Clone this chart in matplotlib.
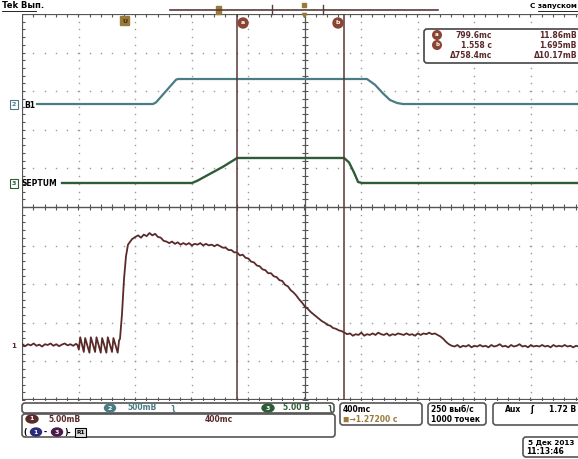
import numpy as np
import matplotlib.pyplot as plt
from matplotlib.patches import FancyBboxPatch, Rectangle, Ellipse, Circle

W, H = 578, 459

# timebase and trigger
sec_per_div = 0.4
trig_div = 1.806          # trigger position, divisions from left edge
cur_a = 0.7996            # cursor a, s
cur_b = 1.558             # cursor b, s

# channel 1 (brown), 5.00 mV/div
ch1_t = [-0.72, -0.70, -0.68, -0.66, -0.64, -0.62, -0.60, -0.58, -0.56, -0.54,
         -0.52, -0.50, -0.48, -0.46, -0.44, -0.42, -0.40, -0.38, -0.36, -0.34,
         -0.33, -0.32, -0.31, -0.285, -0.275, -0.245, -0.235, -0.205, -0.195,
         -0.165, -0.155, -0.125, -0.115, -0.085, -0.075, -0.045, -0.035,
         -0.0286, -0.0145, -0.0004, 0.0138, 0.028, 0.056, 0.08, 0.10, 0.12,
         0.14, 0.16, 0.18, 0.20, 0.22, 0.24, 0.26, 0.28, 0.30, 0.32, 0.34,
         0.36, 0.38, 0.40, 0.42, 0.44, 0.46, 0.48, 0.50, 0.52, 0.54, 0.56,
         0.58, 0.60, 0.62, 0.64, 0.66, 0.68, 0.70, 0.72, 0.74, 0.76, 0.78,
         0.80, 0.82, 0.84, 0.86, 0.88, 0.90, 0.92, 0.94, 0.96, 0.98, 1.00,
         1.02, 1.04, 1.06, 1.08, 1.10, 1.12, 1.14, 1.16, 1.18, 1.20, 1.22,
         1.24, 1.26, 1.28, 1.30, 1.32, 1.34, 1.36, 1.38, 1.40, 1.42, 1.44,
         1.46, 1.48, 1.50, 1.52, 1.54, 1.56, 1.58, 1.60, 1.62, 1.64, 1.66,
         1.68, 1.70, 1.72, 1.74, 1.76, 1.78, 1.80, 1.82, 1.84, 1.86, 1.88,
         1.90, 1.92, 1.94, 1.96, 1.98, 2.00, 2.02, 2.04, 2.06, 2.08, 2.10,
         2.12, 2.14, 2.16, 2.18, 2.20, 2.22, 2.24, 2.26, 2.28, 2.30, 2.32,
         2.34, 2.36, 2.38, 2.40, 2.42, 2.44, 2.46, 2.48, 2.50, 2.52, 2.54,
         2.56, 2.58, 2.60, 2.62, 2.64, 2.66, 2.68, 2.70, 2.72, 2.74, 2.76,
         2.78, 2.80, 2.82, 2.84, 2.86, 2.88, 2.90, 2.92, 2.94, 2.96, 2.98,
         3.00, 3.02, 3.04, 3.06, 3.08, 3.10, 3.12, 3.14, 3.16, 3.18, 3.20, 3.22]
ch1_mv = [0.1, -0.15, 0.1, -0.05, 0.2, -0.1, 0.05, -0.2, 0.1, 0.0,
          0.2, -0.1, 0.1, -0.15, 0.05, 0.2, -0.05, 0.1, -0.1, 0.15,
          0.0, -0.6, 1.0, -0.9, 0.9, -1.0, 1.0, -0.9,
          1.0, -1.0, 0.9, -1.0, 1.0, -0.9, 0.9, -1.0, 0.6,
          0.8, 4.0, 8.5, 11.5, 13.0, 13.7, 14.0, 14.2, 13.9,
          14.3, 14.1, 14.5, 14.2, 14.4, 14.0, 13.9, 13.5, 13.4, 13.2, 13.4,
          13.1, 13.3, 13.0, 13.2, 13.0, 13.2, 12.9, 13.1, 13.0, 13.2, 12.9,
          13.1, 12.9, 13.0, 12.8, 13.0, 12.8, 12.6, 12.6, 12.3, 12.3, 12.0,
          12.0, 11.6, 11.7, 11.3, 11.2, 10.8, 10.7, 10.3, 10.2, 9.8, 9.7,
          9.3, 9.3, 8.9, 8.8, 8.4, 8.3, 7.8, 7.6, 7.1, 6.8, 6.4,
          5.9, 5.5, 5.0, 4.7, 4.3, 4.0, 3.7, 3.4, 3.1, 2.9, 2.6,
          2.5, 2.2, 2.1, 1.9, 1.8, 1.6, 1.4, 1.5, 1.2, 1.4, 1.3,
          1.6, 1.2, 1.4, 1.3, 1.5, 1.3, 1.6, 1.4, 1.3, 1.5, 1.2,
          1.4, 1.3, 1.5, 1.4, 1.3, 1.5, 1.3, 1.4, 1.2, 1.5, 1.3,
          1.5, 1.4, 1.6, 1.4, 1.5, 1.3, 1.1, 0.8, 0.4, 0.1, -0.1,
          -0.2, 0.0, -0.3, -0.1, -0.2, 0.0, -0.3, -0.1, -0.2, 0.0, -0.2,
          -0.1, -0.3, 0.0, -0.2, -0.1, 0.1, -0.2, -0.1, -0.3, 0.0, -0.2,
          -0.1, 0.1, -0.2, -0.1, -0.3, 0.0, -0.2, -0.1, -0.2, 0.0, -0.2,
          -0.1, -0.3, 0.0, -0.2, -0.1, -0.2, 0.0, -0.2, -0.1, -0.3, -0.1, -0.2]

# channel 2 "B1" (teal), 500 mV/div
b1_t = [-0.616, 0.205, 0.226, 0.368, 0.382, 1.720, 1.777, 1.834, 1.883, 1.933, 1.975, 3.25]
b1_mv = [0, 0, 20, 315, 324, 324, 249, 136, 52, 13, 0, 0]

# channel 3 "SEPTUM" (green), 5.00 V/div
sep_t = [-0.439, 0.481, 0.52, 0.60, 0.70, 0.78, 0.800, 1.558, 1.593, 1.628, 1.657, 1.685, 3.25]
sep_v = [0, 0, 0.3, 1.1, 2.1, 3.0, 3.24, 3.24, 2.66, 1.36, 0.13, 0, 0]

# scale (units/div) and ground position (div from centre) per channel
ch1_scale, ch1_pos = 5.0, -3.575
b1_scale, b1_pos = 500.0, 2.668
sep_scale, sep_pos = 5.0, 0.622

brown = '#5a2a2a'
teal = '#4a7c84'
green = '#2e5c36'
gold = '#9a7a3a'
frame = '#555555'

fig = plt.figure(figsize=(W / 100, H / 100), dpi=100)
fig.patch.set_facecolor('white')

# scope screen: 22..578 px wide, 14..400 px tall
px_per_div = 56.5
t0 = -trig_div * sec_per_div
t1 = t0 + (W - 22) / px_per_div * sec_per_div
ax = fig.add_axes([22 / W, 1 - 400 / H, (W - 22) / W, (400 - 14) / H])
ax.set_xlim(t0, t1)
ax.set_ylim(-5, 5)
ax.set_xticks([])
ax.set_yticks([])
for s in ax.spines.values():
    s.set_visible(False)

# dotted graticule
xdots = np.arange(t0, t1, sec_per_div / 5)
ydots = np.arange(-5, 5.01, 0.2)
for k in range(1, 10):
    if k == 5:
        continue
    xg = t0 + k * sec_per_div
    ax.plot(np.full(len(ydots), xg), ydots, ls='none', marker='s', ms=1.0,
            color='#999999', mec='none')
for j in range(-4, 5):
    if j == 0:
        continue
    ax.plot(xdots, np.full(len(xdots), j), ls='none', marker='s', ms=1.0,
            color='#999999', mec='none')

# solid centre lines and frame with ticks
xc = t0 + 5 * sec_per_div
ax.axhline(0, color=frame, lw=1.0)
ax.axvline(xc, color=frame, lw=0.9)
ax.plot(xdots, np.zeros(len(xdots)), ls='none', marker='|', ms=4, mew=0.8, color=frame)
ax.plot(np.full(len(ydots), xc), ydots, ls='none', marker='_', ms=5, mew=0.8, color=frame)
ax.axhline(5, color=frame, lw=1.6)
ax.axhline(-5, color=frame, lw=1.6)
ax.axvline(t0, color=frame, lw=1.6)
ax.plot(xdots, np.full(len(xdots), 5), ls='none', marker='|', ms=5, mew=0.8, color=frame)
ax.plot(xdots, np.full(len(xdots), -5), ls='none', marker='|', ms=5, mew=0.8, color=frame)
ax.plot(np.full(len(ydots), t0), ydots, ls='none', marker='_', ms=5, mew=0.8, color=frame)

# traces
ax.plot(b1_t, b1_pos + np.array(b1_mv) / b1_scale, color=teal, lw=1.6, solid_joinstyle='round')
ax.plot(sep_t, sep_pos + np.array(sep_v) / sep_scale, color=green, lw=1.7, solid_joinstyle='round')
ax.plot(ch1_t, ch1_pos + np.array(ch1_mv) / ch1_scale, color=brown, lw=1.3)

# cursors
ax.axvline(cur_a, color='#5b3535', lw=1.1)
ax.axvline(cur_b, color='#5b3535', lw=1.1)

# overlay in pixel coordinates for readouts and labels
ov = fig.add_axes([0, 0, 1, 1], facecolor='none')
ov.set_xlim(0, W)
ov.set_ylim(H, 0)
ov.axis('off')

fs = 5.5
bold = dict(fontsize=fs, fontweight='bold')

ov.text(2, 6, 'Tek Вып.', color='black', va='center', ha='left', fontsize=6, fontweight='bold')
ov.plot([2, 36], [10.5, 10.5], color='black', lw=0.6)
ov.text(577, 6, 'С запуском', color='black', va='center', ha='right', fontsize=5.2, fontweight='bold')
ov.plot([538, 577], [10.5, 10.5], color='black', lw=0.6)

# record bar
ov.plot([170, 438], [9.5, 9.5], color='#5a3a3a', lw=1.2)
ov.add_patch(Rectangle((216, 5.5), 5, 8, color=gold))
ov.plot([272, 272], [5, 14], color='#5a3a3a', lw=1.0)
ov.plot([323, 323], [5, 14], color='#5a3a3a', lw=1.0)
ov.plot([304], [5], marker='s', ms=2.5, color=gold)
ov.plot([304], [15], marker='v', ms=3, color=gold)

# trigger and cursor markers
ov.add_patch(FancyBboxPatch((121, 17), 8, 8, boxstyle='round,pad=0.5', color=gold))
ov.text(125, 21.5, 'U', color='#3a2a10', ha='center', va='center', fontsize=4.5, fontweight='bold')
for cx, lab in [(243, 'a'), (338, 'b')]:
    ov.add_patch(Circle((cx, 23), 5.0, color='#8a4434'))
    ov.text(cx, 23, lab, color='white', ha='center', va='center', fontsize=4.5, fontweight='bold')

# cursor readout box
ov.add_patch(FancyBboxPatch((424, 29), 170, 34, boxstyle='round,pad=0,rounding_size=3',
                            fc='white', ec='#444444', lw=1.2))
for ry, lab in [(35, 'a'), (45, 'b')]:
    ov.add_patch(Circle((437, ry), 4.3, color='#8a4434'))
    ov.text(437, ry, lab, color='white', ha='center', va='center', fontsize=4, fontweight='bold')
rows = [('799.6mc', '11.86mB', 35), ('1.558 c', '1.695mB', 45), ('Δ758.4mc', 'Δ10.17mB', 56)]
for left, right, ry in rows:
    ov.text(492, ry, left, color=brown, ha='right', va='center', **bold)
    ov.text(577, ry, right, color=brown, ha='right', va='center', **bold)

# channel labels
ov.add_patch(Rectangle((10, 100), 8, 9, fc='white', ec=teal, lw=0.8))
ov.text(14, 104.5, '2', color=teal, ha='center', va='center', fontsize=4.5, fontweight='bold')
ov.text(24, 105, 'B1', color='black', ha='left', va='center', **bold)
ov.add_patch(Rectangle((10, 179), 8, 9, fc='white', ec=green, lw=0.8))
ov.text(14, 183.5, '3', color=green, ha='center', va='center', fontsize=4.5, fontweight='bold')
ov.text(21, 184, 'SEPTUM', color='black', ha='left', va='center', **bold)
ov.text(14, 346, '1', color=brown, ha='center', va='center', fontsize=5, fontweight='bold')

# status boxes
def box(x, y, w, h):
    ov.add_patch(FancyBboxPatch((x, y), w, h, boxstyle='round,pad=0,rounding_size=3',
                                fc='white', ec='#555555', lw=1.2))

box(22, 403, 312, 10)
box(22, 414, 313, 23)
box(340, 403, 82, 22)
box(428, 403, 58, 22)
box(493, 403, 100, 22)
box(523, 437, 70, 20)

ov.add_patch(Ellipse((110, 408), 11, 8, color=teal))
ov.text(110, 408, '2', color='white', ha='center', va='center', fontsize=4.5, fontweight='bold')
ov.text(127, 408, '500mB', color=teal, ha='left', va='center', **bold)
ov.text(170, 408, 'ʅ', color=teal, ha='left', va='center', **bold)
ov.add_patch(Ellipse((268, 408), 12, 8, color=green))
ov.text(268, 408, '3', color='white', ha='center', va='center', fontsize=4.5, fontweight='bold')
ov.text(283, 408, '5.00 B', color=green, ha='left', va='center', **bold)
ov.text(327, 408, 'ʅ', color=green, ha='left', va='center', **bold)

ov.add_patch(Ellipse((32, 419), 12, 8, color=brown))
ov.text(32, 419, '1', color='white', ha='center', va='center', fontsize=4.5, fontweight='bold')
ov.text(48, 419, '5.00mB', color=brown, ha='left', va='center', **bold)
ov.text(205, 420, '400mc', color=brown, ha='left', va='center', **bold)
ov.text(23, 432, '(', color='black', ha='left', va='center', **bold)
ov.add_patch(Ellipse((36, 432), 11, 8, color='#2a2a7a'))
ov.text(36, 432, '1', color='white', ha='center', va='center', fontsize=4.5, fontweight='bold')
ov.text(44, 432, '-', color='black', ha='left', va='center', **bold)
ov.add_patch(Ellipse((57, 432), 11, 8, color='#4a1a4a'))
ov.text(57, 432, '3', color='white', ha='center', va='center', fontsize=4.5, fontweight='bold')
ov.text(64, 432, ')-', color='black', ha='left', va='center', **bold)
ov.add_patch(Rectangle((75, 427.5), 11, 9, fc='#dddddd', ec='black', lw=0.8))
ov.text(80.5, 432, 'R1', color='black', ha='center', va='center', fontsize=4.2, fontweight='bold')

ov.text(343, 409, '400mc', color='black', ha='left', va='center', **bold)
ov.text(343, 419, '◼→1.27200 c', color=gold, ha='left', va='center', **bold)
ov.text(431, 409, '250 выб/с', color='black', ha='left', va='center', **bold)
ov.text(431, 419, '1000 точек', color='black', ha='left', va='center', **bold)
ov.text(505, 410, 'Aux', color='black', ha='left', va='center', **bold)
ov.text(530, 410, 'ʃ', color='black', ha='left', va='center', **bold)
ov.text(549, 410, '1.72 B', color='black', ha='left', va='center', **bold)
ov.text(528, 443, '5 Дек 2013', color='black', ha='left', va='center', fontsize=5.2, fontweight='bold')
ov.text(526, 452, '11:13:46', color='black', ha='left', va='center', **bold)

fig.savefig('out.png', dpi=100)
